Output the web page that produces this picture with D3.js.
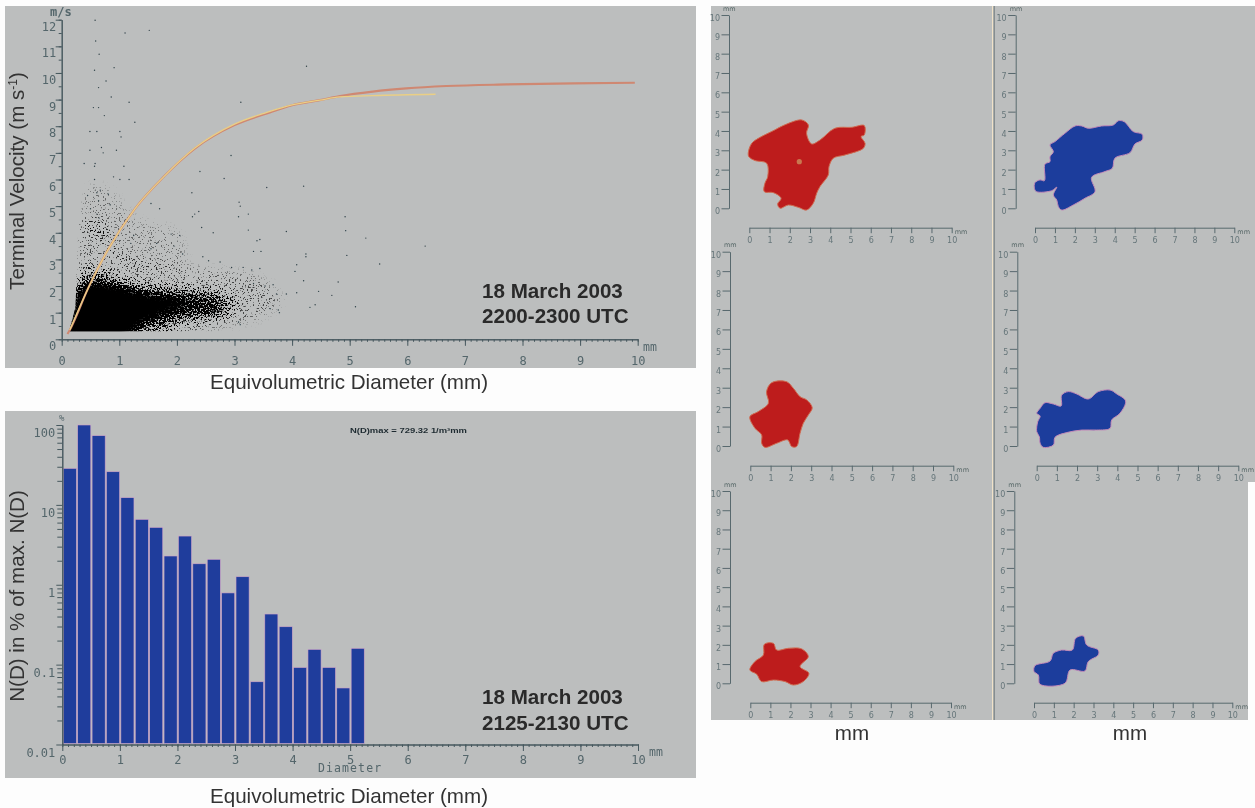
<!DOCTYPE html>
<html><head><meta charset="utf-8">
<script src="https://cdnjs.cloudflare.com/ajax/libs/d3/7.8.5/d3.min.js"></script>
<style>
html,body{margin:0;padding:0;background:#fdfdfd;overflow:hidden}
svg{display:block;filter:blur(0.3px)}
text{font-family:"Liberation Sans",Arial,sans-serif}
.ax path,.ax line{stroke:#46585e;stroke-width:1;fill:none}
.ax text{font-family:"DejaVu Sans Mono",monospace;fill:#54666b;stroke:none}
.sm path,.sm line{stroke:#58696e;stroke-width:1;fill:none}
.sm text{font-family:"DejaVu Sans",sans-serif;fill:#66767a;font-size:8px;stroke:none}
</style></head><body><div id="chart"></div>
<script>
// ---------- data ----------
const velocityTicks = [0,1,2,3,4,5,6,7,8,9,10,11,12];
const diameterTicks = [0,1,2,3,4,5,6,7,8,9,10];
const decadeLabels = [0.01,0.1,1,10,100];
const mmTicks = [0,1,2,3,4,5,6,7,8,9,10];

const fallCurveRed = [[0.1,0.2],[0.14,0.35],[0.46,1.92],[0.8,3.35],[1.27,4.9],[1.77,6.1],[2.31,7.16],[3,8.04],[3.56,8.48],[4,8.79],[4.48,8.98],[4.83,9.13],[5.4,9.3],[5.98,9.42],[6.68,9.51],[7.72,9.57],[8.88,9.61],[9.95,9.63]];
const fallCurveYellow = [[0.14,0.35],[0.46,1.92],[0.8,3.35],[1.27,4.9],[1.77,6.1],[2.31,7.18],[3,8.08],[3.56,8.52],[4,8.8],[4.48,8.98],[4.83,9.1],[5.4,9.15],[6.49,9.2]];

// density bands of the particle cloud: [diameter, velocity]
const cloudSolid = [[0.1,0.0],[0.2,1.0],[0.3,1.75],[0.5,1.95],[0.85,1.9],[1.2,1.65],[1.6,1.5],[1.95,1.35],[1.6,1.0],[1.25,0.8],[1.1,0.4],[1.05,0.0]];
const cloudCore = [[0.12,0.0],[0.2,1.0],[0.3,1.9],[0.45,2.15],[0.8,2.15],[1.15,1.95],[1.5,1.75],[1.95,1.6],[2.2,1.3],[1.8,0.95],[1.5,0.6],[1.3,0.25],[1.2,0.0]];
const cloudTail = [[1.2,0.75],[1.1,1.75],[1.7,1.75],[2.3,1.65],[2.75,1.5],[2.75,1.0],[2.2,0.9],[1.7,0.65]];
const cloudMiddle = [[0.15,0.0],[0.25,1.4],[0.34,2.5],[0.6,2.6],[1.0,2.3],[1.5,2.05],[2.0,1.95],[2.6,1.85],[3.0,1.5],[2.9,0.95],[2.3,0.7],[1.9,0.4],[1.75,0.0]];
const cloudOuter = [[0.2,1.0],[0.27,2.8],[0.3,3.3],[0.3,4.3],[0.7,4.5],[0.95,3.4],[1.3,3.0],[2,2.8],[2.6,2.6],[3.4,2.3],[3.8,1.5],[3.5,0.9],[2.8,0.5],[2.2,0.2],[1.0,0.2]];
const cloudFaint = [[0.38,4.2],[0.42,5.6],[0.72,5.7],[1.3,4.5],[2.0,4.0],[2.1,2.8],[1.0,3.0],[0.7,3.8]];
const cloudBound = [[0.13,0.3],[0.24,1.2],[0.26,2.5],[0.29,4.3],[0.4,6],[0.4,12],[7,12],[7,0.3]];

const looseParticles = [[0.58,11.98],[0.59,11.2],[1.1,11.5],[1.52,11.6],[0.65,10.7],[0.57,10.1],[0.91,10.2],[0.64,9.45],[0.77,9.7],[0.86,9.1],[1.17,8.9],[0.64,8.7],[0.55,8.7],[0.74,8.4],[0.49,7.8],[0.61,7.8],[1.01,7.8],[1.03,7.6],[1.27,8.15],[0.69,7.2],[0.72,7],[0.95,7.1],[0.49,7.1],[0.39,6.6],[0.58,6.6],[0.57,6.5],[1.08,6.5],[0.9,6.1],[1.01,6],[0.57,6],[1.17,6],[0.67,5.6],[0.45,5.4],[0.61,5.5],[0.81,5.45],[0.64,5.2],[0.5,4.9],[0.61,4.7],[0.65,4.55],[0.84,5.05],[4.25,10.25],[3.11,8.9],[2.94,6.9],[1.77,6.1],[2.4,6.3],[2.82,6.04],[3.56,5.7],[4.2,5.75],[2.26,5.5],[2.38,4.8],[2.27,4.6],[2.31,4.7],[2.43,4.2],[2.63,4],[3.08,5.15],[3.1,5],[3.24,4.7],[3.07,4.6],[3.24,4.1],[3.39,3.7],[3.44,3.75],[3.33,3.3],[3.46,3.3],[3.44,2.66],[4.24,3.1],[4.24,3.2],[4.05,2.55],[4.08,2.8],[4.2,2.2],[4.95,3.15],[4.93,4.08],[4.92,4.6],[4.8,2.15],[4.69,1.65],[4.46,1.8],[4.31,1.2],[4.4,1.3],[3.9,4.05],[3.9,1.7],[4.08,1.75],[3.73,1.7],[3.67,2.05],[3.53,2],[3.33,2.1],[3.62,1.15],[3.78,1],[3.76,1.1],[3.1,0.55],[3.07,0.65],[5.28,3.8],[6.31,3.5],[5.52,2.83],[5.1,1.22],[1.55,5.1],[1.7,4.9],[1.9,3.95],[2.05,3.9],[1.95,3.5],[2.1,3.2],[2.45,3.1],[2.55,2.95],[2.75,2.9],[2.95,2.7],[3.15,2.7],[3.3,2.6],[1.55,3.4],[1.65,3.6],[1.2,3.6],[1.25,3.9],[1.05,4.2],[0.98,3.9]];

const histBins = [0,0.25,0.5,0.75,1,1.25,1.5,1.75,2,2.25,2.5,2.75,3,3.25,3.5,3.75,4,4.25,4.5,4.75,5];
const histPercent = [28.6,100,73.5,26,12.3,6.58,5.22,2.29,4.07,1.83,2.08,0.79,1.26,0.061,0.43,0.298,0.092,0.155,0.092,0.051,0.16];

// particle silhouettes, [mm, mm]
const shapeTopRed = [[-0.05,2.88],[0.12,3.36],[0.53,3.67],[1.10,3.97],[1.85,4.36],[2.59,4.57],[2.92,4.31],[2.83,3.88],[3.08,3.33],[3.49,3.53],[4.23,4.14],[5.06,4.19],[5.68,4.28],[5.68,3.79],[5.52,3.71],[5.72,3.36],[5.63,3.10],[4.73,2.76],[4.15,2.59],[3.94,2.16],[3.90,1.72],[3.49,1.12],[3.33,0.78],[3.16,0.26],[2.83,-0.09],[2.42,0.05],[1.93,0.17],[1.52,0],[1.40,0.22],[1.57,0.52],[1.19,0.81],[0.74,0.86],[0.77,1.29],[0.91,1.64],[0.86,2.33],[0.28,2.47],[-0.02,2.67]];
const shapeTopBlue = [[0,1.33],[0.25,1.47],[0.47,1.43],[0.50,2.29],[0.75,2.41],[0.75,2.67],[0.92,2.93],[0.75,3.28],[1.0,3.45],[1.5,3.88],[2.01,4.26],[2.34,4.26],[2.68,4.14],[3.34,4.26],[3.93,4.31],[4.18,4.53],[4.48,4.48],[4.93,3.97],[5.38,3.83],[5.38,3.53],[5.02,3.33],[4.77,2.88],[4.01,2.59],[3.88,2.07],[3.51,1.90],[2.84,1.60],[3.01,0.86],[2.51,0.52],[1.92,0.17],[1.34,-0.09],[1.17,0.09],[1.09,0.43],[0.92,0.69],[1.09,1.09],[0.84,0.91],[0.08,0.86],[-0.03,1.03]];
const shapeMidRed = [[1.05,3.26],[1.79,3.31],[2.12,2.97],[2.45,2.54],[2.78,2.37],[3.05,1.97],[2.86,1.60],[2.61,1.17],[2.45,0.65],[2.28,-0.03],[2.04,-0.03],[1.84,0.31],[1.30,0.14],[0.72,-0.07],[0.56,0.14],[0.56,0.57],[0.23,0.91],[-0.02,1.51],[0.39,1.77],[0.89,2.20],[0.80,2.80]];
const shapeMidBlue = [[0.41,2.23],[0.83,2.16],[1.21,2.06],[1.24,2.62],[1.57,2.80],[1.98,2.68],[2.56,2.42],[3.06,2.80],[3.64,2.88],[3.97,2.68],[4.41,2.32],[4.13,1.68],[3.72,1.34],[3.64,0.91],[2.98,0.82],[2.23,0.82],[1.49,0.69],[0.91,0.45],[0.83,0.05],[0.33,-0.07],[0.17,0.14],[0.13,0.48],[0,0.74],[0.05,1.25],[0.17,1.54],[0,1.68],[0.17,1.94]];
const shapeLowRed = [[0.70,2.03],[1.15,2.08],[1.31,1.73],[1.89,1.82],[2.56,1.79],[2.89,1.39],[2.48,0.87],[2.92,0.52],[2.64,0.09],[2.14,-0.09],[1.73,0.09],[1.15,0.17],[0.56,0.09],[0.32,0.47],[-0.02,0.69],[0.23,1.13],[0.65,1.47]];
const shapeLowBlue = [[2.10,2.34],[2.49,2.46],[2.66,1.99],[3.24,1.73],[3.24,1.47],[2.74,1.13],[2.57,0.64],[1.82,0.69],[1.56,0],[0.30,-0.05],[0.22,0.43],[0,0.61],[0.05,0.92],[0.81,1.16],[0.97,1.56],[1.39,1.73],[1.93,1.73]];
const paleSpot = [2.47,2.41];

// ---------- layout ----------
const W=1255,H=808, GRAY="#bcbebe", RED="#bd1e1e", BLUE="#1f3d9c", BIG=20.6;
const svg=d3.select("#chart").append("svg").attr("width",W).attr("height",H);
const defs=svg.append("defs");
defs.append("filter").attr("id","soft").attr("x","-5%").attr("y","-5%").attr("width","110%").attr("height","110%")
  .append("feGaussianBlur").attr("stdDeviation",0.45);
defs.append("filter").attr("id","solidBlur").attr("x","-20%").attr("y","-20%").attr("width","140%").attr("height","140%")
  .append("feGaussianBlur").attr("stdDeviation",2.6);
// density stipple: the blurred bands set how likely a pixel is to be dark
const st=defs.append("filter").attr("id","stipple").attr("filterUnits","userSpaceOnUse")
  .attr("x",0).attr("y",0).attr("width",W).attr("height",H).attr("color-interpolation-filters","sRGB");
st.append("feTurbulence").attr("type","fractalNoise").attr("baseFrequency",0.62).attr("numOctaves",2).attr("seed",7).attr("result","n");
st.append("feColorMatrix").attr("in","n").attr("type","matrix").attr("values","0 0 0 0 0 0 0 0 0 0 0 0 0 0 0 3 0 0 0 -1").attr("result","noise");
st.append("feGaussianBlur").attr("in","SourceAlpha").attr("stdDeviation",4).attr("result","dens");
st.append("feComposite").attr("in","noise").attr("in2","dens").attr("operator","arithmetic")
  .attr("k1",0).attr("k2",4).attr("k3",5).attr("k4",-4).attr("result","dots");
st.append("feGaussianBlur").attr("in","dots").attr("stdDeviation",0.4);

// panels
const panels=[[5,6,691,362],[5,411,691,367],[711,6,281,714],[994,6,261,476],[994,482,254,238]];
svg.append("g").selectAll("rect").data(panels).join("rect")
  .attr("x",d=>d[0]).attr("y",d=>d[1]).attr("width",d=>d[2]).attr("height",d=>d[3]).attr("fill",GRAY);
svg.append("rect").attr("x",992).attr("y",6).attr("width",1.4).attr("height",714).attr("fill","#f0e2c8");
svg.append("rect").attr("x",993.4).attr("y",6).attr("width",1.3).attr("height",714).attr("fill","#6f7a7c");

// ---------- top-left: scatter ----------
const g1=svg.append("g");
const xV=d3.scaleLinear().domain([0,10]).range([61.7,637.7]);
const yV=d3.scaleLinear().domain([0,12]).range([339.3,19.7]);
const area=d3.line().x(d=>xV(d[0])).y(d=>yV(d[1])).curve(d3.curveCatmullRomClosed.alpha(0.5));
defs.append("clipPath").attr("id","cloudClip").append("path")
  .attr("d",d3.line().x(d=>xV(d[0])).y(d=>yV(d[1])).curve(d3.curveLinearClosed)(cloudBound));
const clipped=g1.append("g").attr("clip-path","url(#cloudClip)");
const cloud=clipped.append("g").attr("filter","url(#stipple)");
[[cloudFaint,0.09],[cloudOuter,0.13],[cloudMiddle,0.3],[cloudTail,0.6],[cloudCore,1]].forEach(([p,a])=>{
  cloud.append("path").attr("d",area(p)).attr("fill","#000").attr("fill-opacity",a);
});
clipped.append("path").attr("d",area(cloudSolid)).attr("fill","#040404").attr("filter","url(#solidBlur)");
g1.append("g").attr("filter","url(#soft)").selectAll("circle").data(looseParticles).join("circle")
  .attr("cx",d=>xV(d[0])).attr("cy",d=>yV(d[1])).attr("r",0.7).attr("fill","#2f4148");
const curve=d3.line().x(d=>xV(d[0])).y(d=>yV(d[1])).curve(d3.curveMonotoneX);
g1.append("path").attr("d",curve(fallCurveRed)).attr("fill","none").attr("stroke","#cf8872").attr("stroke-width",2.1).attr("filter","url(#soft)");
g1.append("path").attr("d",curve(fallCurveYellow)).attr("fill","none").attr("stroke","#eacf85").attr("stroke-width",1.3).attr("filter","url(#soft)");

function mainXAxis(g,scale,y,labelDy){
  const minor=d3.range(0,10.01,0.1).map(v=>+v.toFixed(1));
  g.append("g").attr("class","ax").attr("transform",`translate(0,${y})`)
    .call(d3.axisBottom(scale).tickValues(minor).tickSize(2.5).tickFormat("").tickSizeOuter(0));
  const a=g.append("g").attr("class","ax").attr("transform",`translate(0,${y})`)
    .call(d3.axisBottom(scale).tickValues(diameterTicks).tickSize(6.5).tickSizeOuter(0).tickFormat(d3.format("d")));
  a.selectAll("text").attr("font-size",12).attr("y",labelDy).attr("dy",0).attr("dominant-baseline","middle");
}
mainXAxis(g1,xV,339.3,22.5);
const half=d3.range(0,12.01,0.5);
g1.append("g").attr("class","ax").attr("transform","translate(61.7,0)")
  .call(d3.axisLeft(yV).tickValues(half).tickSize(3).tickFormat("").tickSizeOuter(0));
const ya=g1.append("g").attr("class","ax").attr("transform","translate(61.7,0)")
  .call(d3.axisLeft(yV).tickValues(velocityTicks).tickSize(6).tickSizeOuter(0).tickFormat(d3.format("d")));
ya.selectAll("text").attr("font-size",12).attr("x",-5.5).attr("dy",0).attr("y",7).attr("dominant-baseline","middle");

function mono(g,t,x,y,size,anchor,weight){
  return g.append("text").text(t).attr("x",x).attr("y",y).attr("font-size",size)
   .attr("text-anchor",anchor||"start").attr("dominant-baseline","middle").attr("font-weight",weight||"normal")
   .style("font-family",'"DejaVu Sans Mono",monospace').attr("fill","#54666b");
}
mono(g1,"m/s",50,12,12,"start","bold");
mono(g1,"mm",643,347,11.5);

function body(t,x,y,size,opt){
  opt=opt||{};
  const e=svg.append("text").attr("x",x).attr("y",y).attr("font-size",size).attr("fill",opt.fill||"#333")
    .attr("text-anchor",opt.anchor||"start").attr("font-weight",opt.weight||"normal").text(t);
  if(opt.rot) e.attr("transform",`rotate(-90 ${x} ${y})`);
  return e;
}
const tv=body("Terminal Velocity (m s",24,181,BIG,{anchor:"middle",rot:true});
tv.append("tspan").text("-1").attr("font-size",12).attr("dy",-7);
tv.append("tspan").text(")").attr("dy",7);
body("Equivolumetric Diameter (mm)",349,389,BIG,{anchor:"middle"});
body("18 March 2003",482,298,BIG,{weight:"bold",fill:"#2a2a2a"});
body("2200-2300 UTC",482,323,BIG,{weight:"bold",fill:"#2a2a2a"});

// ---------- bottom-left: histogram ----------
const g2=svg.append("g");
const xD=d3.scaleLinear().domain([0,10]).range([62.3,638]);
const yP=d3.scaleLog().domain([0.01,100]).range([744.5,425]);
g2.append("g").selectAll("rect").data(histPercent).join("rect")
  .attr("x",(d,i)=>xD(histBins[i])+1).attr("width",(d,i)=>xD(0.25)-xD(0)-1.3)
  .attr("y",d=>yP(d)).attr("height",d=>743.5-yP(d))
  .attr("fill",BLUE).attr("stroke","#d0a4c8").attr("stroke-width",0.6);
mainXAxis(g2,xD,744.5,15.5);
const logMinor=d3.merge([0.01,0.1,1,10].map(b=>d3.range(2,10).map(k=>b*k))).concat([100]);
g2.append("g").attr("class","ax").attr("transform","translate(62.3,0)")
  .call(d3.axisLeft(yP).tickValues(logMinor).tickSize(5).tickFormat("").tickSizeOuter(0));
const yl=g2.append("g").attr("class","ax").attr("transform","translate(62.3,0)")
  .call(d3.axisLeft(yP).tickValues(decadeLabels).tickSize(6).tickSizeOuter(0).tickFormat(d=>String(d)));
yl.selectAll("text").attr("font-size",12).attr("x",-7).attr("dy",0).attr("y",8).attr("dominant-baseline","middle");
mono(g2,"%",59,418,9);
mono(g2,"mm",649,752,11.5);
mono(g2,"Diameter",318,768.5,11.5).attr("letter-spacing",1.1);
g2.append("text").text("N(D)max = 729.32 1/m³mm").attr("x",350).attr("y",433).attr("font-size",8).attr("font-weight","bold")
  .style("font-family",'"Liberation Sans",sans-serif').attr("fill","#1d2a30").attr("textLength",117).attr("lengthAdjust","spacingAndGlyphs");
body("N(D) in % of max. N(D)",24,596,BIG,{anchor:"middle",rot:true});
body("Equivolumetric Diameter (mm)",349,803,BIG,{anchor:"middle"});
body("18 March 2003",482,704,BIG,{weight:"bold",fill:"#2a2a2a"});
body("2125-2130 UTC",482,730,BIG,{weight:"bold",fill:"#2a2a2a"});
body("mm",852,740,BIG,{anchor:"middle"});
body("mm",1130,740,BIG,{anchor:"middle"});

// ---------- right: silhouettes ----------
const tiles=[
 {s:shapeTopRed, c:RED, e:"#cf6a50",ax:729,  ty:15,  by:208.3,xy:227.7,x0:749.3,x1:951.7},
 {s:shapeTopBlue,c:BLUE,e:"#c28ab8",ax:1015.7,ty:15,  by:208.3,xy:227.7,x0:1035, x1:1234.3},
 {s:shapeMidRed, c:RED, e:"#cf6a50",ax:730,  ty:251.7,by:446,  xy:465.7,x0:750.3,x1:953.3},
 {s:shapeMidBlue,c:BLUE,e:"#c28ab8",ax:1017.3,ty:251.7,by:446,  xy:465.7,x0:1036.7,x1:1238.3},
 {s:shapeLowRed, c:RED, e:"#cf6a50",ax:730,  ty:491, by:683.3,xy:702.7,x0:750.3,x1:951},
 {s:shapeLowBlue,c:BLUE,e:"#c28ab8",ax:1014.3,ty:491, by:683.3,xy:702.7,x0:1034, x1:1232.3}
];
tiles.forEach((t,i)=>{
  const g=svg.append("g").attr("filter","url(#soft)");
  const x=d3.scaleLinear().domain([0,10]).range([t.x0,t.x1]);
  const y=d3.scaleLinear().domain([0,10]).range([t.by,t.ty]);
  g.append("path").attr("d",d3.line().x(d=>x(d[0])).y(d=>y(d[1])).curve(d3.curveCatmullRomClosed.alpha(0.5))(t.s))
    .attr("fill",t.c).attr("stroke",t.e).attr("stroke-width",1).attr("stroke-linejoin","round");
  if(i===0) g.append("circle").attr("cx",x(paleSpot[0])).attr("cy",y(paleSpot[1])).attr("r",2.6).attr("fill","#c9784f");
  const ay=g.append("g").attr("class","sm").attr("transform",`translate(${t.ax},0)`)
    .call(d3.axisLeft(y).tickValues(mmTicks).tickSize(7.5).tickSizeOuter(0).tickFormat(d3.format("d")));
  ay.selectAll("text").attr("x",-9).attr("y",3).attr("dy",0).attr("dominant-baseline","middle");
  const ax=g.append("g").attr("class","sm").attr("transform",`translate(0,${t.xy})`)
    .call(d3.axisBottom(x).tickValues(mmTicks).tickSize(5.5).tickSizeOuter(0).tickFormat(d3.format("d")));
  ax.selectAll("text").attr("y",13).attr("dy",0).attr("dominant-baseline","middle");
  g.append("text").text("mm").attr("x",t.x1+3).attr("y",t.xy+4.5).attr("font-size",6.5).attr("fill","#566")
    .style("font-family",'"DejaVu Sans",sans-serif').attr("dominant-baseline","middle");
  g.append("text").text("mm").attr("x",t.ax-6).attr("y",t.ty-6).attr("font-size",6.5).attr("fill","#566")
    .style("font-family",'"DejaVu Sans",sans-serif').attr("dominant-baseline","middle");
});
</script></body></html>
